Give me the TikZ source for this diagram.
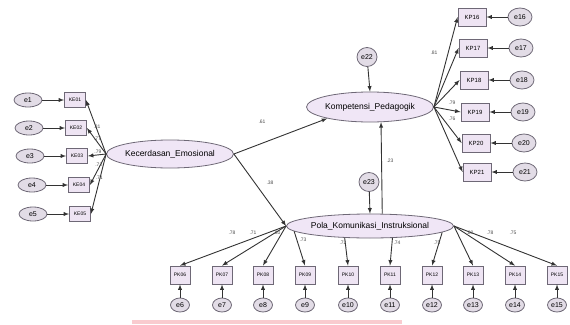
\documentclass[tikz,border=0pt]{standalone}
\usepackage{fontspec}
\setmainfont{Liberation Sans}
\usetikzlibrary{shapes.geometric}
\definecolor{latfill}{HTML}{F0E6F6}
\definecolor{boxfill}{HTML}{EEE4F3}
\definecolor{errfill}{HTML}{E2DCE6}
\definecolor{rimgray}{HTML}{6E6876}
\definecolor{barpink}{HTML}{F9CBCF}
\begin{document}
\begin{tikzpicture}[x=1pt,y=-1pt,
  latent/.style={ellipse,draw=rimgray,fill=latfill,thick,inner sep=0pt,font=\fontsize{8.5}{9}\selectfont},
  obs/.style={rectangle,draw=rimgray,fill=boxfill,thick,inner sep=0pt,font=\fontsize{5}{5}\selectfont},
  err/.style={ellipse,draw=rimgray,fill=errfill,thick,inner sep=0pt,font=\fontsize{7}{7}\selectfont},
  path/.style={-latex,line width=0.9pt,black!80},
  load/.style={font=\fontsize{5}{5}\selectfont,inner sep=1pt,text=black!70}]
\useasboundingbox (0,0) rectangle (570,324);
\fill[barpink] (132,320) rectangle (402,324);
% latent variables
\node[latent,minimum width=120,minimum height=28] (ke) at (170,154) {Kecerdasan\_Emosional};
\node[latent,minimum width=126,minimum height=30] (komp) at (370,107) {Kompetensi\_Pedagogik};
\node[latent,minimum width=148,minimum height=24] (pola) at (370,226) {Pola\_Komunikasi\_Instruksional};
\node[err,minimum width=20,minimum height=19] (e22) at (367,57) {e22};
\node[err,minimum width=20,minimum height=19] (e23) at (369,182) {e23};
% structural paths
\draw[path] (ke.east) -- (komp.195);
\draw[path] (ke.east) -- (pola.west);
\draw[path] (pola.45) -- (komp.306);
\draw[path] (e22) -- (komp.north);
\draw[path] (e23) -- (pola.north);
\node[load] (l1) at (262,122) {.61};
\node[load] (l2) at (270,183) {.38};
\node[load] (l3) at (390,161) {.23};
% Kecerdasan_Emosional indicators
\foreach \i/\x/\y/\v in {1/75/100/.81,2/76/128/.77,3/77/156/.79,4/79/185/.72,5/80/214/.71}{
  \node[obs,minimum width=21,minimum height=15] (k\i) at (\x,\y) {KE0\i};
  \node[err,minimum width=28,minimum height=14] (e\i) at (\x-47,\y) {e\i};
  \draw[path] (e\i) -- (k\i);
  \draw[path] (ke.west) -- node[load,pos=0.45,above] {\v} (k\i.east);
}
% Kompetensi_Pedagogik indicators
\foreach \i/\x/\y in {16/472/17,17/473/48,18/474/80,19/475/112,20/476/143,21/477/172}{
  \node[obs,minimum width=28,minimum height=18,font=\fontsize{6}{6}\selectfont] (k\i) at (\x,\y) {KP\i};
  \node[err,minimum width=24,minimum height=18] (e\i) at (\x+48,\y) {e\i};
  \draw[path] (e\i) -- (k\i);
  \draw[path] (komp.east) -- (k\i.west);
}
\node[load] (l16) at (434,53) {.81};
\node[load] (l19) at (452,103) {.79};
\node[load] (l20) at (452,119) {.76};
% Pola_Komunikasi_Instruksional indicators
\foreach \i/\x in {6/180,7/222,8/263,9/305,10/348,11/390,12/432,13/473,14/515,15/557}{
  \node[obs,minimum width=20,minimum height=18] (k\i) at (\x,275) {PK\ifnum\i<10 0\fi\i};
  \node[err,minimum width=19,minimum height=14] (e\i) at (\x,305) {e\i};
  \draw[path] (e\i) -- (k\i);
}
\foreach \i in {6,7,8}
  \draw[path] (pola.west) -- (k\i.north);
\foreach \i in {13,14,15}
  \draw[path] (pola.east) -- (k\i.north);
\draw[path] (pola.184) -- (k9.north);
\draw[path] (pola.205) -- (k10.north);
\draw[path] (pola.332) -- (k11.north);
\draw[path] (pola.355) -- (k12.north);
\foreach \v/\x/\y in {.78/232/233,.71/253/233,.80/277/233,.73/303/240,.72/343/243,.74/397/243,.75/437/243,.80/470/233,.78/490/233,.75/513/233}
  \node[load] at (\x,\y) {\v};
\end{tikzpicture}
\end{document}
